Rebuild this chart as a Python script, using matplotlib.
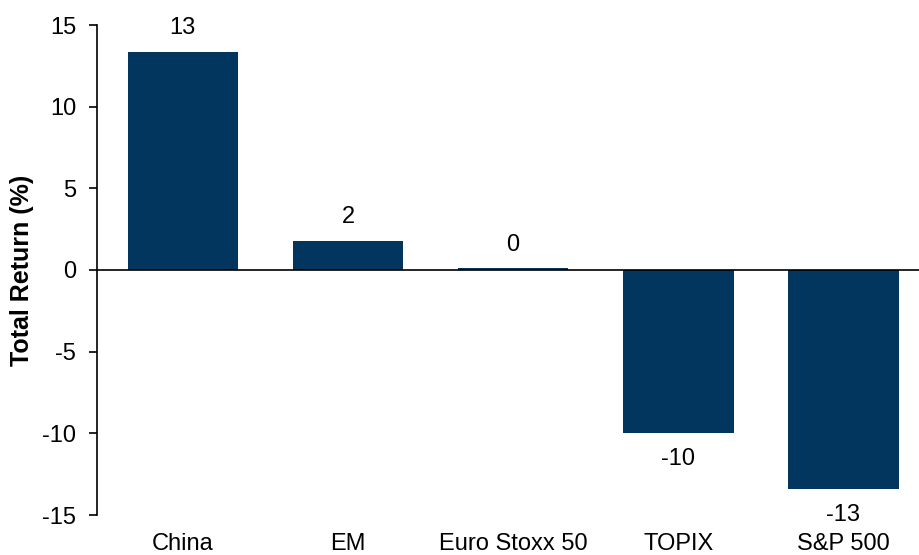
import matplotlib
matplotlib.use("Agg")
import matplotlib.pyplot as plt

categories = ["China", "EM", "Euro Stoxx 50", "TOPIX", "S&P 500"]
values = [13.35, 1.78, 0.1, -9.95, -13.4]
labels = ["13", "2", "0", "-10", "-13"]
yticks = [-15, -10, -5, 0, 5, 10, 15]

plt.rcParams['font.family'] = ['Liberation Sans', 'DejaVu Sans']
fig = plt.figure(figsize=(9.19, 5.55), dpi=100)
ax = fig.add_axes([97/919, 1-515/555, (926-97)/919, (515-25)/555])
x = range(len(categories))
ax.bar(x, values, width=0.67, color="#03365f", zorder=2)
ax.axhline(0, color="black", lw=1.2, zorder=3)
ax.set_xlim(-0.52, 4.5)
ax.set_ylim(-15, 15)
ax.set_yticks(yticks)
ax.set_yticklabels([str(t) for t in yticks], fontsize=17)
ax.set_xticks(list(x))
ax.set_xticklabels(categories, fontsize=17)
ax.tick_params(axis='x', length=0, pad=13)
ax.tick_params(axis='y', length=6, width=1.2, pad=9)
for s in ["top", "right", "bottom"]:
    ax.spines[s].set_visible(False)
ax.spines["left"].set_linewidth(1.2)
ax.set_ylabel("Total Return (%)", fontsize=18, fontweight="bold", labelpad=6)
for xi, v, lab in zip(x, values, labels):
    if v >= 0:
        ax.annotate(lab, (xi, v), xytext=(0, 9), textcoords="offset points",
                    ha="center", va="bottom", fontsize=17, annotation_clip=False)
    else:
        ax.annotate(lab, (xi, v), xytext=(0, -11), textcoords="offset points",
                    ha="center", va="top", fontsize=17, annotation_clip=False)
fig.savefig("out.png", dpi=100)
